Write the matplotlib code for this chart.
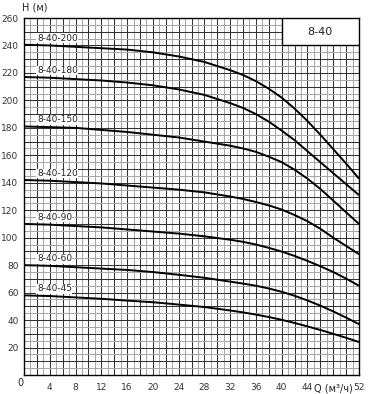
import matplotlib
matplotlib.use("Agg")
import matplotlib.pyplot as plt
from matplotlib.patches import Rectangle

q = [0, 4, 8, 12, 16, 20, 24, 28, 32, 34, 36, 38, 40, 42, 44, 46, 48, 50, 52]
curves = {
    "8-40-200": [240.5, 240, 239, 238, 237, 235, 232, 228, 222, 218.5, 214, 208.5, 202, 194, 185, 175, 164.5, 154, 143],
    "8-40-180": [217, 216.5, 215.5, 214.5, 213, 211, 208, 204, 198, 194.5, 190, 184.5, 178, 171, 163, 155, 147, 139, 131],
    "8-40-150": [181, 180.5, 180, 178.5, 177, 175, 173, 170, 167, 165, 162.5, 159, 155, 149.5, 143, 135.5, 127, 118.5, 110],
    "8-40-120": [142, 141.5, 140.5, 139.5, 138, 136.5, 135, 133, 130, 128.2, 126, 123.5, 120.5, 116.5, 112, 106.5, 100, 94, 88],
    "8-40-90":  [110, 109.5, 108.5, 107.5, 106, 104.5, 103, 101, 98.5, 97, 95, 92.6, 89.9, 86.7, 83.1, 79.2, 75, 70.2, 65],
    "8-40-60":  [80, 79.5, 78.5, 77.5, 76.5, 75, 73, 70.8, 68, 66.6, 65, 63, 60.6, 57.7, 54.3, 50.5, 46.3, 41.8, 37],
    "8-40-45":  [58, 57.5, 56.5, 55.5, 54.2, 53, 51.3, 49.5, 47, 45.6, 44, 42.2, 40.2, 37.9, 35.4, 32.8, 30, 27.1, 24],
}
x_ticks = [4, 8, 12, 16, 20, 24, 28, 32, 36, 40, 44, 52]
y_ticks = [20, 40, 60, 80, 100, 120, 140, 160, 180, 200, 220, 240, 260]
title_box = "8-40"

fig = plt.figure(figsize=(3.8, 3.94), dpi=100)
ax = fig.add_axes([24/380, 1-375/394, 335/380, 357/394])
ax.set_xlim(0, 52)
ax.set_ylim(0, 260)

# grid
for xv in range(1, 52):
    dark = xv % 2 == 0
    ax.axvline(xv, color="#333333" if dark else "#a8a8a8", lw=0.75, zorder=1)
for yv in range(5, 260, 5):
    dark = yv % 10 == 0
    ax.axhline(yv, color="#333333" if dark else "#a8a8a8", lw=0.75, zorder=1)

for name, h in curves.items():
    ax.plot(q, h, color="black", lw=1.4, zorder=3, solid_capstyle="butt")
    ax.text(2, h[0] + 1.5, name, fontsize=6.5, color="#222222", ha="left", va="bottom",
            zorder=4, bbox=dict(facecolor="white", edgecolor="none", pad=0.3))

# title box
ax.add_patch(Rectangle((40, 240), 12, 20, facecolor="white", edgecolor="black", lw=1.0, zorder=5))
ax.text(46, 250, title_box, fontsize=8, ha="center", va="center", color="#222222", zorder=6)

ax.set_xticks(x_ticks)
ax.set_xticklabels([str(v) for v in x_ticks])
ax.set_yticks(y_ticks)
ax.tick_params(axis="both", length=0, labelsize=6.5, colors="#333333", pad=4)
ax.tick_params(axis="x", pad=6)
for s in ax.spines.values():
    s.set_color("black")
    s.set_linewidth(1.0)

fig.text(20/380, 1-383/394, "0", fontsize=7, ha="center", va="center", color="#222222")
fig.text(22/380, 1-8/394, "H (м)", fontsize=7, ha="left", va="center", color="#222222")
ax.text(48, -6, "Q (м³/ч)", fontsize=7, ha="center", va="top", color="#222222")

fig.savefig("out.png", dpi=100, facecolor="white")
